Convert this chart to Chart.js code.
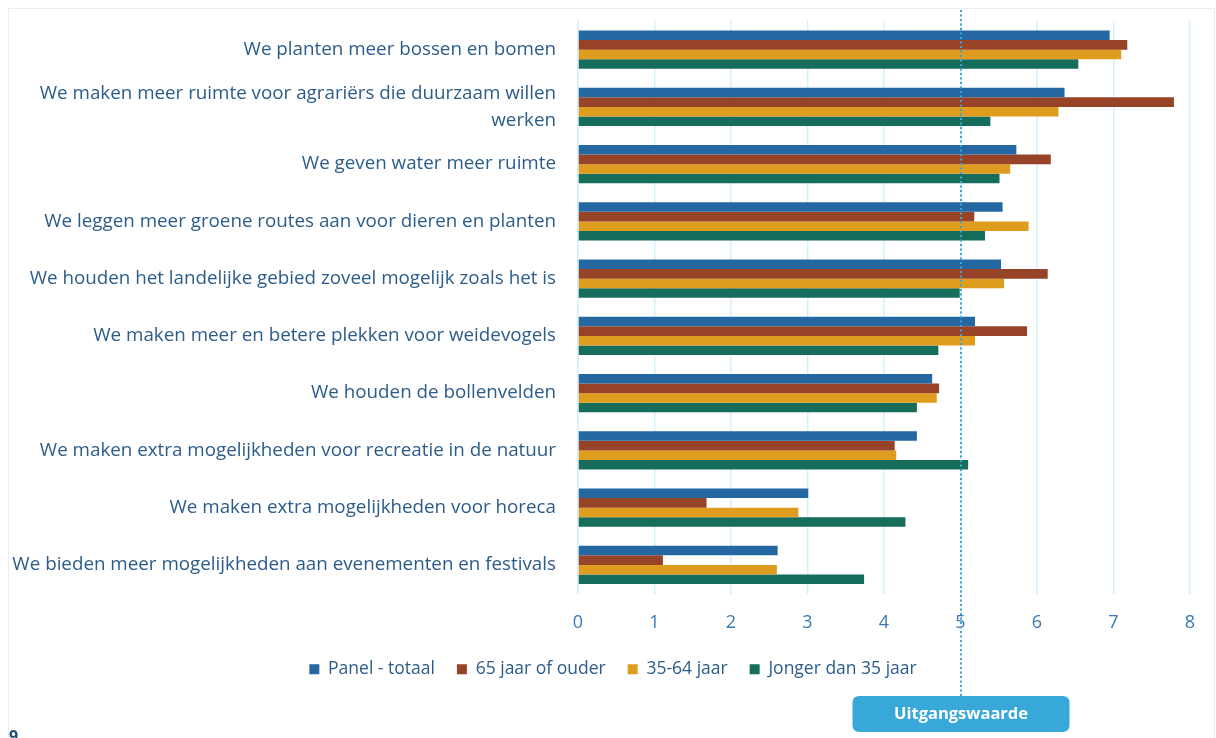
<!DOCTYPE html>
<html>
<head>
<meta charset="utf-8">
<script src="https://cdn.jsdelivr.net/npm/chart.js@4.4.1/dist/chart.umd.min.js"></script>
<style>
  html, body { margin: 0; padding: 0; background: #ffffff; }
  #wrap { width: 1216px; height: 738px; position: relative; }
</style>
</head>
<body>
<div id="wrap"><canvas id="c" width="1216" height="738"></canvas></div>
<script>
const categories = [
  "We planten meer bossen en bomen",
  ["We maken meer ruimte voor agrariërs die duurzaam willen", "werken"],
  "We geven water meer ruimte",
  "We leggen meer groene routes aan voor dieren en planten",
  "We houden het landelijke gebied zoveel mogelijk zoals het is",
  "We maken meer en betere plekken voor weidevogels",
  "We houden de bollenvelden",
  "We maken extra mogelijkheden voor recreatie in de natuur",
  "We maken extra mogelijkheden voor horeca",
  "We bieden meer mogelijkheden aan evenementen en festivals"
];
const seriesNames = ["Panel - totaal", "65 jaar of ouder", "35-64 jaar", "Jonger dan 35 jaar"];
const panelTotaal = [6.95, 6.36, 5.73, 5.55, 5.53, 5.19, 4.63, 4.43, 3.01, 2.61];
const ouder65     = [7.18, 7.79, 6.18, 5.18, 6.14, 5.87, 4.72, 4.14, 1.68, 1.11];
const jaar35_64   = [7.10, 6.28, 5.65, 5.89, 5.57, 5.19, 4.69, 4.16, 2.88, 2.60];
const jonger35    = [6.54, 5.39, 5.51, 5.32, 4.99, 4.71, 4.43, 5.10, 4.28, 3.74];
const xTicks = [0, 1, 2, 3, 4, 5, 6, 7, 8];
const referenceValue = 5;
const referenceLabel = "Uitgangswaarde";

const colors = ["#2467a1", "#974327", "#df9d1f", "#176d5c"];
const seriesData = [panelTotaal, ouder65, jaar35_64, jonger35];

const legendShift = {
  id: 'legendShift',
  afterLayout(chart) {
    if (chart.legend) { chart.legend.left += 14; chart.legend.right += 14; }
  }
};

const refPlugin = {
  id: 'refLine',
  afterDatasetsDraw(chart) {
    const ctx = chart.ctx;
    const x = Math.round(chart.scales.x.getPixelForValue(referenceValue));
    ctx.save();
    // frame
    ctx.strokeStyle = '#ececec';
    ctx.lineWidth = 1;
    ctx.strokeRect(8.5, 8.5, 1206, 760);
    // dotted reference line
    ctx.strokeStyle = '#3aa5d6';
    ctx.lineWidth = 2;
    ctx.setLineDash([2, 2.5]);
    ctx.beginPath();
    ctx.moveTo(x, 10);
    ctx.lineTo(x, 696);
    ctx.stroke();
    ctx.setLineDash([]);
    // badge
    const w = 217, h = 36, bx = x - w / 2, by = 696, r = 7;
    ctx.fillStyle = '#38a8d8';
    ctx.beginPath();
    ctx.moveTo(bx + r, by);
    ctx.lineTo(bx + w - r, by);
    ctx.quadraticCurveTo(bx + w, by, bx + w, by + r);
    ctx.lineTo(bx + w, by + h - r);
    ctx.quadraticCurveTo(bx + w, by + h, bx + w - r, by + h);
    ctx.lineTo(bx + r, by + h);
    ctx.quadraticCurveTo(bx, by + h, bx, by + h - r);
    ctx.lineTo(bx, by + r);
    ctx.quadraticCurveTo(bx, by, bx + r, by);
    ctx.closePath();
    ctx.fill();
    ctx.fillStyle = '#ffffff';
    ctx.font = 'bold 16.5px "Open Sans"';
    ctx.textAlign = 'center';
    ctx.textBaseline = 'middle';
    ctx.fillText(referenceLabel, x, by + h / 2);
    // page number fragment
    ctx.fillStyle = '#1f4e79';
    ctx.font = 'bold 16px "Open Sans"';
    ctx.textAlign = 'left';
    ctx.textBaseline = 'top';
    ctx.fillText('9', 9, 729);
    ctx.restore();
  }
};

new Chart(document.getElementById('c'), {
  type: 'bar',
  data: {
    labels: categories,
    datasets: seriesNames.map((name, i) => ({
      label: name,
      data: seriesData[i],
      backgroundColor: colors[i],
      borderWidth: 0,
      categoryPercentage: 0.67,
      barPercentage: 1.0
    }))
  },
  options: {
    indexAxis: 'y',
    responsive: false,
    animation: false,
    devicePixelRatio: 1,
    layout: { padding: { top: 21, right: 26, bottom: 50, left: 8 } },
    scales: {
      x: {
        min: 0, max: 8,
        afterBuildTicks(scale) { scale.ticks = xTicks.map(v => ({ value: v })); },
        afterFit(scale) { scale.height = 45; scale.paddingLeft = 0; scale.paddingRight = 0; },
        grid: { color: '#d5effc', lineWidth: 1.5, drawTicks: true, tickLength: 0 },
        border: { display: false },
        ticks: {
          color: '#3a79b4',
          font: { family: '"Open Sans"', size: 18 },
          padding: 19
        }
      },
      y: {
        afterFit(scale) { scale.width = 570; scale.paddingTop = 0; scale.paddingBottom = 0; },
        grid: { display: false, drawTicks: false, tickLength: 0 },
        border: { display: true, color: '#d5effc', width: 1.5 },
        ticks: {
          color: '#2b5c8a',
          font: { family: '"Open Sans"', size: 18.8, lineHeight: 1.42 },
          padding: 22,
          autoSkip: false
        }
      }
    },
    plugins: {
      legend: {
        position: 'bottom',
        labels: {
          color: '#2b5c8a',
          font: { family: '"Open Sans"', size: 17.5 },
          boxWidth: 10,
          boxHeight: 10,
          padding: 22
        }
      },
      tooltip: { enabled: false }
    }
  },
  plugins: [legendShift, refPlugin]
});
</script>
</body>
</html>
